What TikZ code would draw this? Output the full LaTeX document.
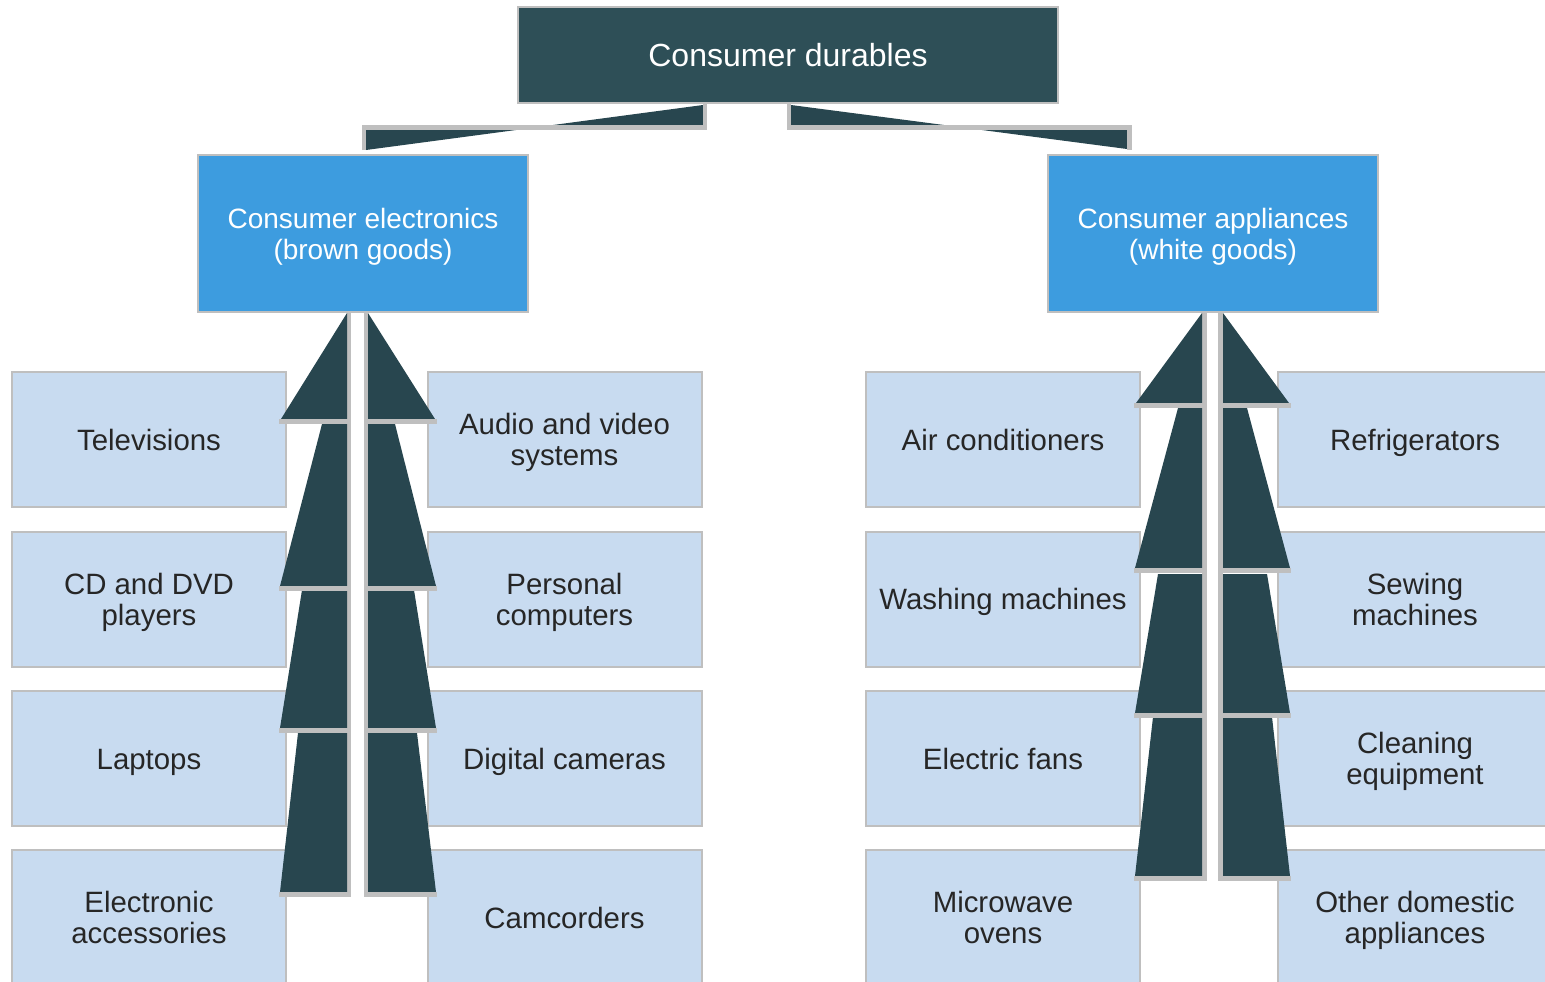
\documentclass[tikz,border=0pt]{standalone}
\usepackage{fontspec}
\setmainfont{Liberation Sans}
\definecolor{topfill}{HTML}{2E4F57}
\definecolor{arrowdark}{HTML}{28464F}
\definecolor{grayline}{HTML}{BFBFBF}
\definecolor{midfill}{HTML}{3D9CDF}
\definecolor{leaffill}{HTML}{C8DBF0}
\definecolor{leaftext}{HTML}{262626}
\begin{document}
\begin{tikzpicture}[x=0.5pt,y=-0.5pt,
  box/.style={draw=grayline, line width=1pt, inner sep=0pt, align=center, anchor=center},
  topbox/.style={box, fill=topfill, text=white, font=\fontsize{16}{19}\selectfont, minimum width=270pt, minimum height=48pt, text height=11.46pt, text depth=0pt},
  midbox/.style={box, fill=midfill, text=white, font=\fontsize{14}{15.5}\selectfont, minimum width=165pt, minimum height=78.5pt, text height=25.5pt, text depth=0pt},
  leaf/.style={box, fill=leaffill, text=leaftext, font=\fontsize{14.7}{15.5}\selectfont, minimum width=137pt, minimum height=67.5pt, text height=10.52pt, text depth=0pt},
  leaftwo/.style={leaf, text height=26.02pt},
  darkpart/.style={fill=arrowdark},
  shadowbar/.style={fill=grayline},
  shadowline/.style={draw=grayline, line width=2.25pt}]
\useasboundingbox (0,0) rectangle (1545,981);
\clip (0,0) rectangle (1545,981);

% leaf boxes, left group
\node[leaf] (tv)  at (149,439.5) {Televisions};
\node[leaftwo] (cd)  at (149,599) {CD and DVD\\players};
\node[leaf] (lap) at (149,758.5) {Laptops};
\node[leaftwo] (acc) at (149,917.5) {Electronic\\accessories};
\node[leaftwo] (av)  at (564.5,439.5) {Audio and video\\systems};
\node[leaftwo] (pc)  at (564.5,599) {Personal\\computers};
\node[leaf] (cam) at (564.5,758.5) {Digital cameras};
\node[leaf] (cc)  at (564.5,917.5) {Camcorders};
% leaf boxes, right group
\node[leaf] (air) at (1003,439.5) {Air conditioners};
\node[leaf] (wash) at (1003,599) {Washing machines};
\node[leaf] (fan) at (1003,758.5) {Electric fans};
\node[leaftwo] (mw)  at (1003,917.5) {Microwave\\ovens};
\node[leaf] (fr)  at (1415,439.5) {Refrigerators};
\node[leaftwo] (sew) at (1415,599) {Sewing\\machines};
\node[leaftwo] (cln) at (1415,758.5) {Cleaning\\equipment};
\node[leaftwo] (oth) at (1415,917.5) {Other domestic\\appliances};

% middle boxes
\node[midbox] (ce) at (363,233.5) {Consumer electronics\\(brown goods)};
\node[midbox] (ca) at (1213,233.5) {Consumer appliances\\(white goods)};

% ---- left stacked arrow ----
\fill[shadowbar] (347,313) rectangle (351,897);
\fill[shadowbar] (364,313) rectangle (368,897);
\fill[darkpart] (347,313) -- (347,419) -- (281,419) -- cycle;
\fill[darkpart] (322,424) -- (347,424) -- (347,586) -- (280,586) -- cycle;
\fill[darkpart] (302,590) -- (347,590) -- (347,728) -- (280,728) -- cycle;
\fill[darkpart] (298,733) -- (347,733) -- (347,892) -- (280,892) -- cycle;
\fill[darkpart] (368,313) -- (368,419) -- (435,419) -- cycle;
\fill[darkpart] (395,424) -- (368,424) -- (368,586) -- (436,586) -- cycle;
\fill[darkpart] (414,590) -- (368,590) -- (368,728) -- (436,728) -- cycle;
\fill[darkpart] (417,733) -- (368,733) -- (368,892) -- (436,892) -- cycle;
\foreach \yb in {419,586,728,892} {
  \fill[shadowbar] (279,\yb) rectangle (351,\yb+4.5);
  \fill[shadowbar] (364,\yb) rectangle (437,\yb+4.5);
}

% ---- right stacked arrow ----
\fill[shadowbar] (1202,313) rectangle (1207,881);
\fill[shadowbar] (1218,313) rectangle (1223,881);
\fill[darkpart] (1202,313) -- (1202,403) -- (1136,403) -- cycle;
\fill[darkpart] (1178,408) -- (1202,408) -- (1202,568) -- (1135,568) -- cycle;
\fill[darkpart] (1158,574) -- (1202,574) -- (1202,713) -- (1135,713) -- cycle;
\fill[darkpart] (1153,717) -- (1202,717) -- (1202,876) -- (1135,876) -- cycle;
\fill[darkpart] (1223,313) -- (1223,403) -- (1289,403) -- cycle;
\fill[darkpart] (1247,408) -- (1223,408) -- (1223,568) -- (1290,568) -- cycle;
\fill[darkpart] (1267,574) -- (1223,574) -- (1223,713) -- (1290,713) -- cycle;
\fill[darkpart] (1272,717) -- (1223,717) -- (1223,876) -- (1290,876) -- cycle;
\foreach \yb in {403,568,713,876} {
  \fill[shadowbar] (1134,\yb) rectangle (1207,\yb+5);
  \fill[shadowbar] (1218,\yb) rectangle (1291,\yb+5);
}

% top box
\node[topbox] (cd0) at (788,55) {Consumer durables};

% ---- top elbow connectors ----
\fill[darkpart] (703,105) -- (703,125) -- (553,125) -- cycle;
\fill[darkpart] (366,130) -- (366,150) -- (516,130) -- cycle;
\draw[shadowline] (364,150) -- (364,127.5) -- (705,127.5) -- (705,104);
\fill[darkpart] (791,105) -- (791,125) -- (944,125) -- cycle;
\fill[darkpart] (982,130) -- (1127,130) -- (1127,149) -- cycle;
\draw[shadowline] (789,104) -- (789,127.5) -- (1129.5,127.5) -- (1129.5,150);
\end{tikzpicture}
\end{document}
